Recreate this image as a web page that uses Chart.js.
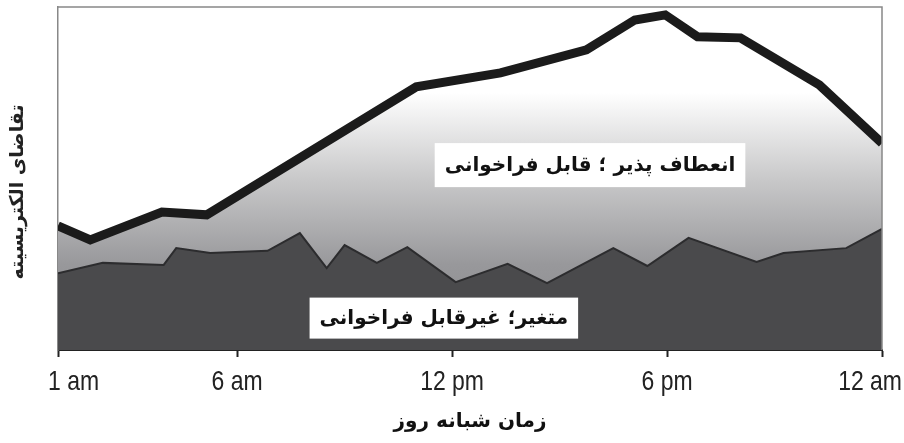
<!DOCTYPE html>
<html>
	<head>
		<meta charset="UTF-8">
		<title>تقاضای الکتریسیته</title>
		<script src="https://cdn.jsdelivr.net/npm/chart.js"></script>
		<style>
			* {padding: 0; margin: 0;}
			body {background: #fff;}
			div {width: 904px; height: 443px;}
		</style>
	</head>
	<body>
		<div>
			<canvas id="myChart" width="904" height="443"></canvas>
		</div>
		<script>
			// hour of day (1 = 1 am, 24 = 12 am) and demand level, 0..100
			const totalHours = [1, 1.9, 3.9, 5.15, 11.0, 13.35, 15.75, 17.1, 17.95, 18.85, 20.05, 22.25, 24];
			const totalDemand = [36.2, 32.1, 40.2, 39.4, 76.7, 80.8, 87.5, 96.2, 97.7, 91.3, 91.0, 77.3, 60.3];

			const baseHours = [1, 2.25, 3.95, 4.3, 5.25, 6.85, 7.75, 8.5, 9.0, 9.9, 10.75, 12.1, 13.55, 14.65, 16.5, 17.45, 18.6, 20.5, 21.25, 23.0, 24];
			const baseDemand = [22.4, 25.4, 24.8, 29.7, 28.3, 28.9, 34.1, 23.9, 30.6, 25.4, 30.0, 19.8, 25.1, 19.5, 29.7, 24.5, 32.7, 25.7, 28.3, 29.7, 35.3];

			const tickHours = [1, 6, 12, 18, 24];
			const tickLabels = ["1 am", "6 am", "12 pm", "6 pm", "12 am"];

			const flexibleLabel = "انعطاف پذیر ؛ قابل فراخوانی";
			const fixedLabel = "متغیر؛ غیرقابل فراخوانی";
			const xTitle = "زمان شبانه روز";
			const yTitle = "تقاضای الکتریسیته";

			function toPoints(xs, ys){
				let arr = new Array();
				for (let i=0; i<xs.length; i++){
					arr.push({x: xs[i], y: ys[i]});
				}
				return arr;
			}

			// white-to-gray fill under the total demand line
			function grayFade(context){
				const area = context.chart.chartArea;
				if (!area) return '#bbbbbb';
				const g = context.chart.ctx.createLinearGradient(0, area.top, 0, area.bottom);
				g.addColorStop(0, '#ffffff');
				g.addColorStop(0.25, '#ffffff');
				g.addColorStop(0.5, '#c9c9ca');
				g.addColorStop(0.75, '#98989b');
				g.addColorStop(1, '#88888b');
				return g;
			}

			// narrow text: regular sans squeezed horizontally
			function narrowText(c, text, x, y, align){
				const sx = 0.82;
				const w = c.measureText(text).width * sx;
				let left = x;
				if (align == 'center') left = x - w/2;
				if (align == 'right') left = x - w;
				c.save();
				c.translate(left, y);
				c.scale(sx, 1);
				c.textAlign = 'left';
				c.fillText(text, 0, 0);
				c.restore();
			}

			// frame, hour labels, y title and the two white label boxes
			const decorations = {
				id: 'decorations',
				afterDatasetsDraw(chart){
					const c = chart.ctx;
					const area = chart.chartArea;
					const xs = chart.scales.x;
					const ys = chart.scales.y;

					c.save();
					c.strokeStyle = '#888888';
					c.lineWidth = 1.5;
					c.beginPath();
					c.moveTo(area.left, area.top);
					c.lineTo(area.right, area.top);
					c.lineTo(area.right, area.bottom);
					c.stroke();

					const notes = [
						{text: flexibleLabel, x: 15.85, y: 53.9, h: 44},
						{text: fixedLabel, x: 11.77, y: 9.3, h: 41}
					];
					c.font = 'bold 20px "DejaVu Sans", sans-serif';
					c.textAlign = 'center';
					c.textBaseline = 'middle';
					notes.forEach(function(n){
						const px = xs.getPixelForValue(n.x);
						const py = ys.getPixelForValue(n.y);
						const w = c.measureText(n.text).width + 20;
						c.fillStyle = '#ffffff';
						c.fillRect(px - w/2, py - n.h/2, w, n.h);
						c.fillStyle = '#111111';
						c.fillText(n.text, px, py + 1);
					});
					c.restore();
				},
				afterDraw(chart){
					const c = chart.ctx;
					const xs = chart.scales.x;
					c.save();
					c.font = '28px "Liberation Sans", Arial, sans-serif';
					c.fillStyle = '#222222';
					c.textBaseline = 'alphabetic';
					for (let i=0; i<tickHours.length; i++){
						const px = xs.getPixelForValue(tickHours[i]);
						if (i == 0){
							narrowText(c, tickLabels[i], px - 10, 390, 'left');
						} else if (i == tickHours.length - 1){
							narrowText(c, tickLabels[i], px + 20, 390, 'right');
						} else {
							narrowText(c, tickLabels[i], px, 390, 'center');
						}
					}

					// rotated y title, reads bottom to top
					c.translate(18, 192);
					c.rotate(-Math.PI / 2);
					c.font = 'bold 19px "DejaVu Sans", sans-serif';
					c.textAlign = 'center';
					c.textBaseline = 'middle';
					c.fillStyle = '#222222';
					c.fillText(yTitle, 0, 0);
					c.restore();
				}
			};

			const ctx = document.getElementById('myChart');

			new Chart(ctx, {
				type: 'line',
				data: {
					datasets: [{
						label: fixedLabel,
						data: toPoints(baseHours, baseDemand),
						fill: 'origin',
						backgroundColor: '#4a4a4c',
						borderColor: '#2c2c2e',
						borderWidth: 2,
						pointRadius: 0,
						tension: 0,
						clip: 0
					}, {
						label: flexibleLabel,
						data: toPoints(totalHours, totalDemand),
						fill: 'origin',
						backgroundColor: grayFade,
						borderColor: '#1b1b1b',
						borderWidth: 9,
						borderJoinStyle: 'miter',
						pointRadius: 0,
						tension: 0,
						clip: 0
					}]
				},
				options: {
					responsive: false,
					animation: false,
					layout: {
						padding: {top: 7, right: 22, left: 0, bottom: 0}
					},
					plugins: {
						legend: {display: false},
						tooltip: {enabled: false}
					},
					scales: {
						x: {
							type: 'linear',
							min: 1,
							max: 24,
							afterBuildTicks: function(scale){
								scale.ticks = tickHours.map(function(v){ return {value: v}; });
							},
							afterFit: function(scale){
								scale.height = 93;
								scale.paddingLeft = 0;
								scale.paddingRight = 0;
							},
							ticks: {display: false},
							grid: {
								drawOnChartArea: false,
								drawTicks: true,
								tickLength: 7,
								tickColor: '#222222',
								tickWidth: 2
							},
							border: {display: true, color: '#222222', width: 2},
							title: {
								display: true,
								text: xTitle,
								color: '#111111',
								font: {family: 'DejaVu Sans', size: 20, weight: 'bold'},
								padding: {top: 0, bottom: 9}
							}
						},
						y: {
							min: 0,
							max: 100,
							afterFit: function(scale){
								scale.width = 58;
							},
							ticks: {display: false},
							grid: {display: false, drawTicks: false},
							border: {display: true, color: '#888888', width: 1.5},
							title: {display: false}
						}
					}
				},
				plugins: [decorations]
			});
		</script>
	</body>
</html>
